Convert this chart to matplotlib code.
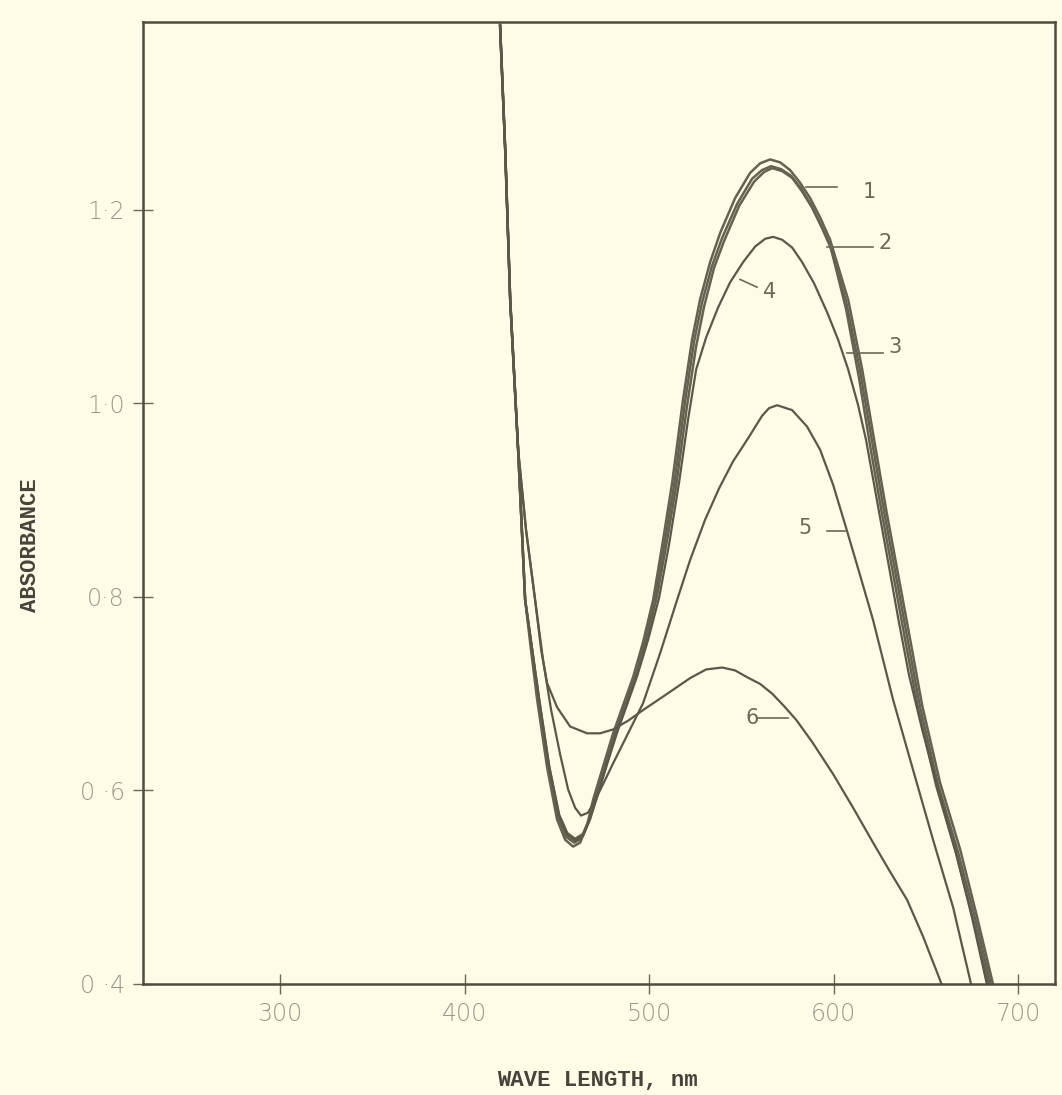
import matplotlib
matplotlib.use("Agg")
import matplotlib.pyplot as plt

# Absorption spectra, wavelength (nm) vs absorbance, curves 1-6
WL_1 = [419.2, 422.0, 424.7, 429.0, 432.8, 436.0, 439.3, 444.7, 450.1, 454.5,
        458.8, 462.6, 466.4, 469.6, 475.1, 480.5, 485.9, 491.3, 496.7, 502.2,
        507.6, 512.5, 518.4, 523.3, 527.6, 533.1, 538.5, 546.6, 554.7, 560.2,
        565.6, 571.0, 576.4, 581.8, 587.3, 592.7, 598.1, 607.9, 615.5, 622.0,
        628.5, 635.0, 641.5, 648.0, 657.7, 668.6, 677.8, 685.9, 688.1]
ABS_1 = [1.391, 1.262, 1.107, 0.952, 0.797, 0.745, 0.694, 0.624, 0.570, 0.549,
         0.542, 0.546, 0.564, 0.590, 0.625, 0.659, 0.688, 0.717, 0.753, 0.797,
         0.859, 0.918, 1.004, 1.066, 1.107, 1.146, 1.176, 1.212, 1.238, 1.248,
         1.252, 1.249, 1.241, 1.228, 1.212, 1.192, 1.169, 1.107, 1.035, 0.962,
         0.890, 0.823, 0.756, 0.688, 0.608, 0.539, 0.469, 0.404, 0.383]

WL_2 = [419.2, 422.0, 424.7, 429.0, 432.8, 436.6, 439.8, 445.3, 450.7, 455.0,
        459.4, 463.1, 466.9, 470.7, 476.2, 481.6, 487.0, 492.4, 497.8, 503.3,
        508.7, 513.6, 519.5, 524.4, 528.7, 534.1, 539.6, 547.7, 555.8, 561.2,
        566.1, 571.5, 577.0, 582.4, 587.8, 593.2, 598.1, 606.8, 614.4, 620.9,
        627.4, 633.9, 640.4, 646.9, 656.6, 667.5, 676.7, 684.8, 687.0]
ABS_2 = [1.391, 1.262, 1.107, 0.952, 0.797, 0.745, 0.694, 0.624, 0.572, 0.552,
         0.546, 0.550, 0.567, 0.592, 0.627, 0.660, 0.689, 0.719, 0.756, 0.799,
         0.859, 0.916, 1.002, 1.064, 1.104, 1.142, 1.171, 1.206, 1.232, 1.241,
         1.245, 1.242, 1.235, 1.222, 1.205, 1.184, 1.163, 1.105, 1.033, 0.960,
         0.888, 0.821, 0.753, 0.686, 0.606, 0.536, 0.468, 0.403, 0.383]

WL_3 = [419.2, 422.0, 424.7, 429.0, 432.8, 440.4, 445.8, 451.2, 455.6, 459.9,
        464.2, 468.0, 471.8, 477.2, 482.7, 488.1, 493.5, 498.9, 504.3, 509.8,
        514.6, 520.6, 525.5, 529.8, 535.2, 540.7, 548.8, 556.9, 562.3, 566.7,
        572.1, 577.5, 582.9, 588.4, 593.8, 598.6, 606.8, 613.8, 619.8, 626.3,
        632.8, 639.3, 645.8, 655.6, 666.4, 675.6, 683.7, 685.9]
ABS_3 = [1.391, 1.262, 1.107, 0.952, 0.797, 0.694, 0.625, 0.575, 0.556, 0.550,
         0.555, 0.572, 0.595, 0.629, 0.663, 0.691, 0.721, 0.758, 0.801, 0.859,
         0.914, 0.998, 1.059, 1.100, 1.140, 1.168, 1.204, 1.229, 1.239, 1.243,
         1.240, 1.233, 1.219, 1.202, 1.181, 1.160, 1.097, 1.026, 0.956, 0.885,
         0.818, 0.750, 0.685, 0.605, 0.535, 0.467, 0.403, 0.383]

WL_4 = [419.2, 422.0, 424.7, 429.0, 432.8, 440.4, 445.8, 451.2, 455.6, 459.9,
        464.2, 468.0, 471.8, 477.2, 482.7, 488.1, 493.5, 499.5, 505.4, 510.8,
        516.3, 521.1, 525.5, 530.9, 537.4, 543.9, 551.0, 557.5, 562.9, 567.2,
        572.1, 577.5, 582.9, 589.4, 596.5, 602.4, 607.9, 613.3, 617.6, 623.0,
        629.0, 635.0, 640.9, 648.0, 656.6, 666.4, 675.1, 682.7, 684.9]
ABS_4 = [1.391, 1.262, 1.107, 0.952, 0.797, 0.694, 0.625, 0.574, 0.554, 0.548,
         0.553, 0.570, 0.593, 0.627, 0.660, 0.689, 0.718, 0.756, 0.799, 0.854,
         0.919, 0.983, 1.035, 1.068, 1.099, 1.125, 1.146, 1.162, 1.170, 1.172,
         1.169, 1.161, 1.146, 1.124, 1.094, 1.066, 1.035, 0.998, 0.962, 0.905,
         0.842, 0.778, 0.719, 0.663, 0.601, 0.535, 0.468, 0.403, 0.383]

WL_5 = [419.2, 422.0, 424.7, 429.0, 433.3, 438.2, 442.5, 446.9, 451.8, 456.1,
        459.9, 463.1, 466.9, 471.3, 476.2, 480.5, 488.6, 496.7, 506.0, 515.2,
        522.2, 530.4, 537.9, 545.5, 553.7, 561.2, 565.0, 569.4, 577.5, 585.6,
        592.7, 599.7, 607.3, 614.4, 621.4, 626.8, 632.2, 643.1, 653.9, 664.8,
        674.0, 676.2]
ABS_5 = [1.391, 1.262, 1.107, 0.952, 0.869, 0.797, 0.735, 0.683, 0.637, 0.601,
         0.582, 0.574, 0.577, 0.592, 0.611, 0.628, 0.659, 0.690, 0.742, 0.797,
         0.838, 0.880, 0.912, 0.940, 0.964, 0.987, 0.995, 0.998, 0.993, 0.976,
         0.952, 0.916, 0.868, 0.822, 0.776, 0.735, 0.694, 0.621, 0.549, 0.479,
         0.404, 0.383]

WL_6 = [419.2, 422.0, 424.7, 429.0, 433.3, 438.2, 441.5, 444.7, 450.1, 457.2,
        466.4, 473.4, 480.5, 488.6, 496.7, 507.6, 522.2, 530.9, 539.6, 546.6,
        553.1, 560.2, 566.7, 573.2, 579.7, 588.4, 599.7, 610.6, 621.4, 630.6,
        639.8, 648.5, 657.7, 661.5]
ABS_6 = [1.391, 1.262, 1.107, 0.952, 0.869, 0.797, 0.745, 0.711, 0.686, 0.666,
         0.659, 0.659, 0.663, 0.672, 0.683, 0.697, 0.716, 0.725, 0.727, 0.724,
         0.717, 0.710, 0.700, 0.687, 0.673, 0.650, 0.617, 0.582, 0.546, 0.516,
         0.487, 0.449, 0.404, 0.383]

X_TICKS = [300, 400, 500, 600, 700]
X_TICK_LABELS = ["300", "400", "500", "600", "700"]
Y_TICKS = [0.4, 0.6, 0.8, 1.0, 1.2]
Y_TICK_LABELS = ["0 \u00b74", "0 \u00b76", "0\u00b78", "1\u00b70", "1\u00b72"]

# curve tags: (text, text x, text y, leader x0, leader y0, leader x1, leader y1)
TAGS = [
    ("1", 616.0, 1.218, 585.3, 1.223, 601.6, 1.223),
    ("2", 624.1, 1.166, 596.5, 1.162, 621.4, 1.162),
    ("3", 629.5, 1.058, 607.3, 1.052, 626.8, 1.052),
    ("4", 561.8, 1.115, 549.3, 1.128, 558.5, 1.120),
    ("5", 580.8, 0.871, 596.5, 0.868, 607.3, 0.868),
    ("6", 552.0, 0.675, 559.1, 0.675, 575.3, 0.675),
]

PAPER = "#fefce6"
INK = "#5b584a"

fig = plt.figure(figsize=(10.62, 10.95), dpi=100, facecolor=PAPER)
ax = fig.add_axes([0.1347, 0.1014, 0.8587, 0.8785])
ax.set_facecolor(PAPER)

for wl, ab in [(WL_1, ABS_1), (WL_2, ABS_2), (WL_3, ABS_3)]:
    ax.plot(wl, ab, color="#666252", lw=1.8, solid_capstyle="round")
ax.plot(WL_4, ABS_4, color=INK, lw=1.6)
ax.plot(WL_5, ABS_5, color=INK, lw=1.6)
ax.plot(WL_6, ABS_6, color=INK, lw=1.6)

for text, tx, ty, x0, y0, x1, y1 in TAGS:
    ax.plot([x0, x1], [y0, y1], color="#6b6858", lw=1.2)
    ax.text(tx, ty, text, fontsize=15, color="#6b6858", ha="left", va="center",
            family="DejaVu Sans")

ax.set_xlim(225.7, 720)
ax.set_ylim(0.4, 1.394)
ax.set_xticks(X_TICKS)
ax.set_xticklabels(X_TICK_LABELS)
ax.set_yticks(Y_TICKS)
ax.set_yticklabels(Y_TICK_LABELS)
ax.tick_params(direction="inout", length=14, width=1.0, color="#6b6858",
               labelsize=17, labelcolor="#9a988c", pad=6)
for lab in ax.get_xticklabels() + ax.get_yticklabels():
    lab.set_family("DejaVu Sans")
    lab.set_fontweight("light")

for side in ["left", "right", "top", "bottom"]:
    ax.spines[side].set_color("#4f4c40")
    ax.spines[side].set_linewidth(1.8)

fig.text(30 / 1062, 1 - 545 / 1095, "ABSORBANCE", rotation=90, ha="center",
         va="center", fontsize=16, fontweight="bold", family="Liberation Mono",
         color="#46443a")
fig.text(597 / 1062, 1 - 1080 / 1095, "WAVE LENGTH, nm", ha="center",
         va="center", fontsize=16, fontweight="bold", family="Liberation Mono",
         color="#46443a")

fig.savefig("out.png", dpi=100, facecolor=PAPER)
